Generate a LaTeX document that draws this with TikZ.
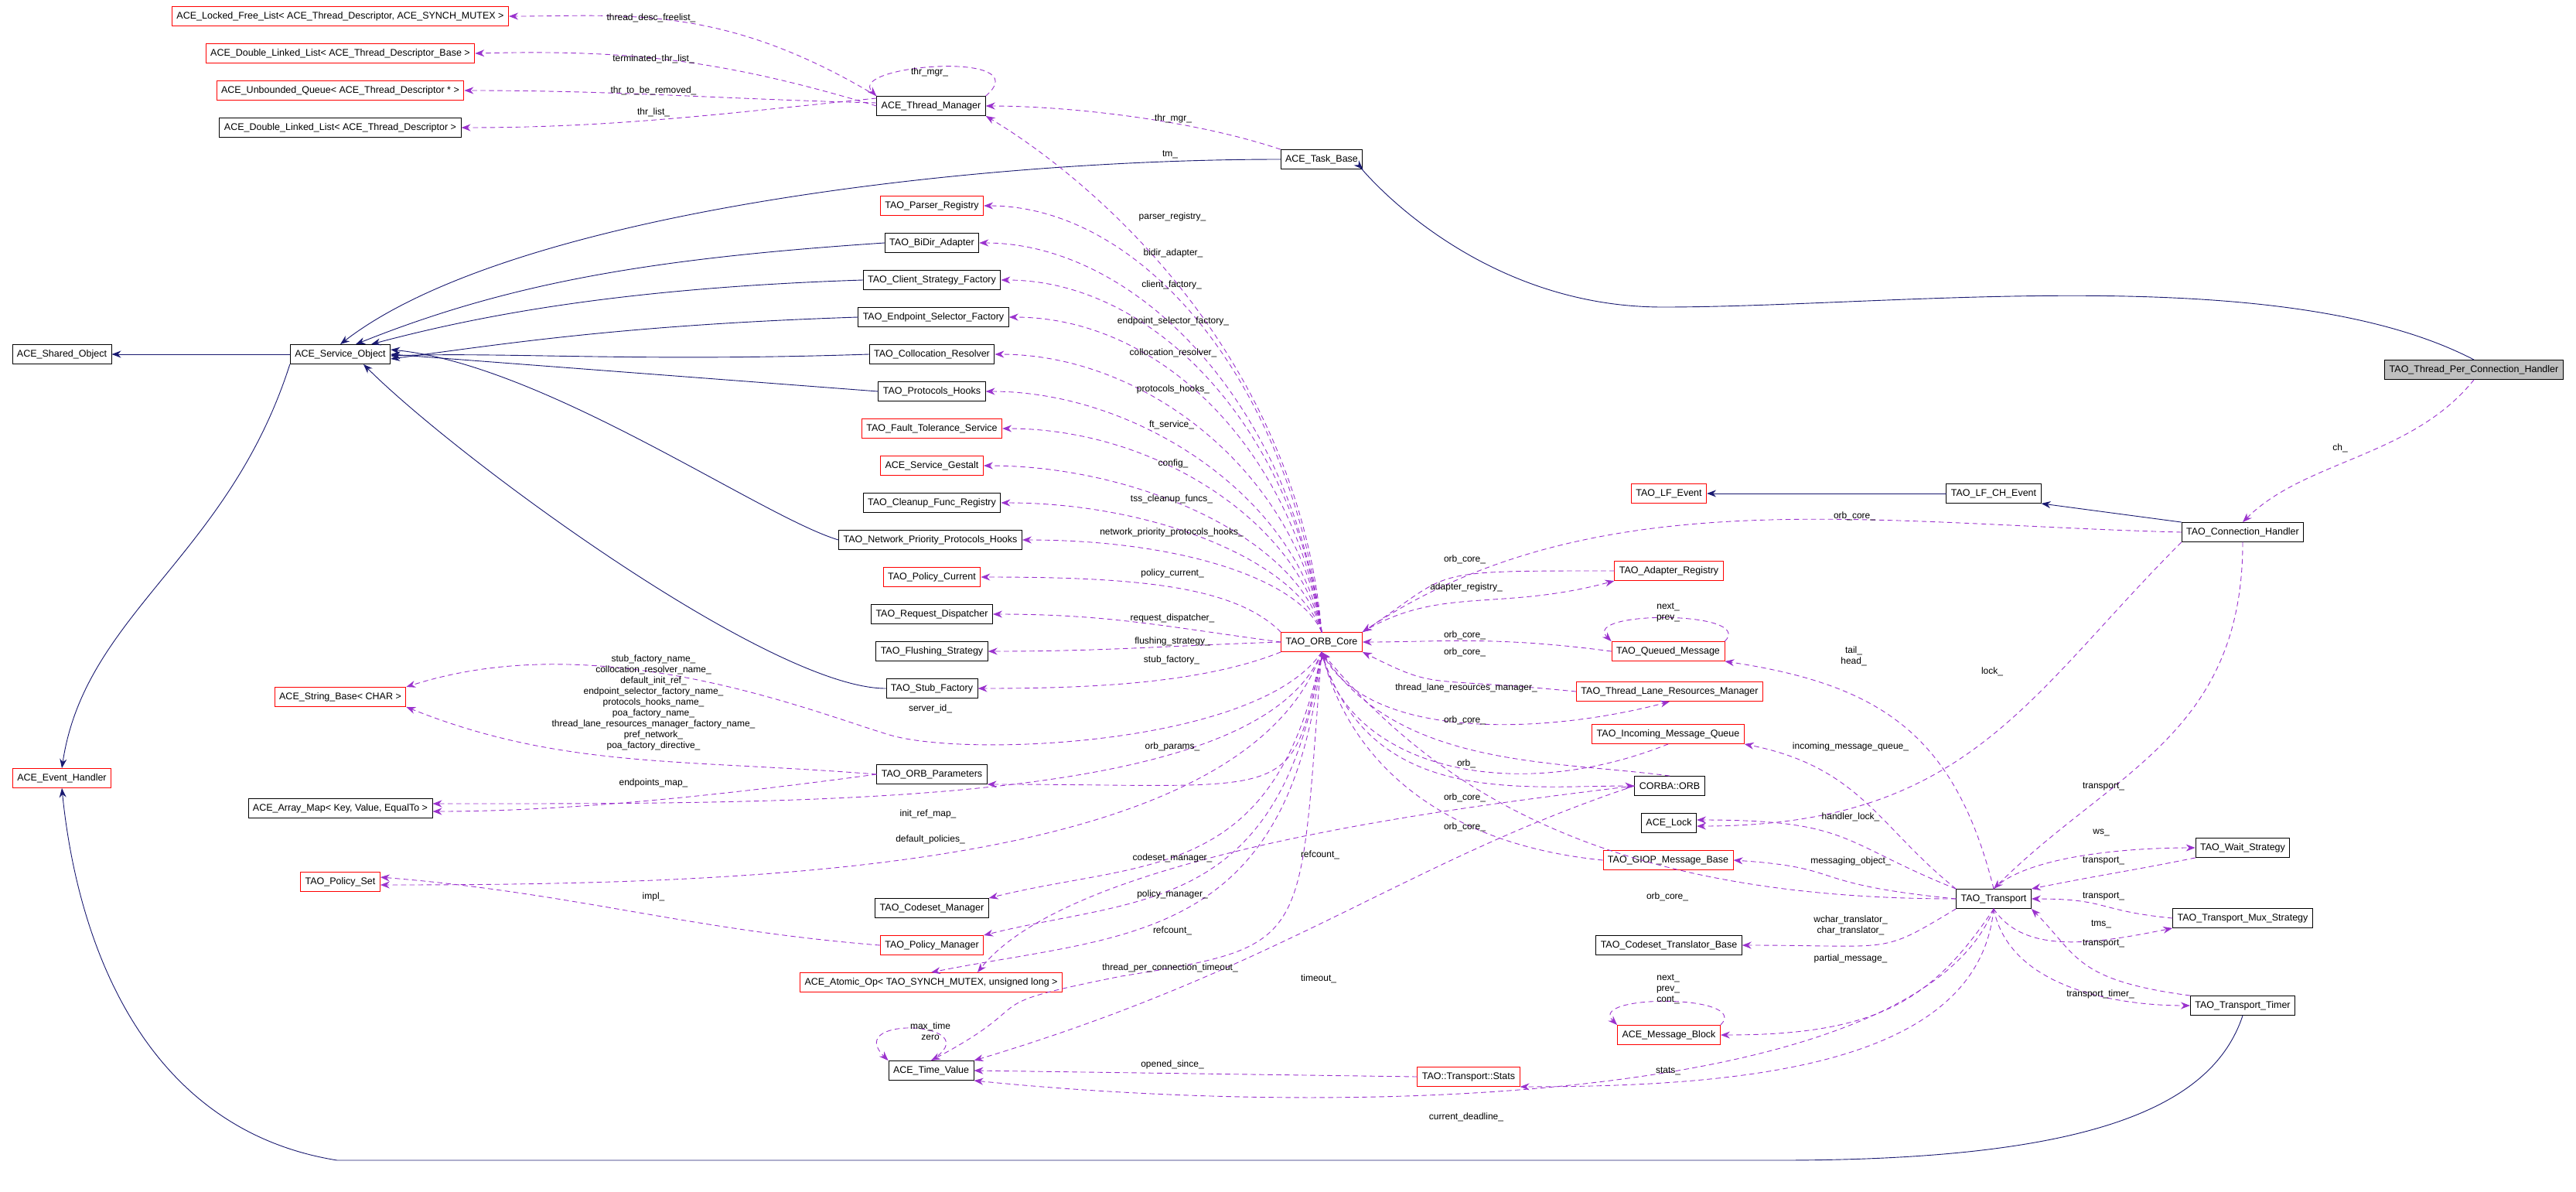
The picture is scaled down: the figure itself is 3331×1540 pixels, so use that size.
\documentclass[tikz,border=0pt]{standalone}
\usepackage{fontspec}
\setmainfont{Liberation Sans}
\usetikzlibrary{arrows,arrows.meta}

\definecolor{inhcol}{HTML}{191970}
\definecolor{memcol}{HTML}{9A32CD}

\tikzset{
  cls/.style  = {rectangle, draw=black, fill=white, line width=0.9pt,
                 minimum height=25pt, inner xsep=6pt,
                 font=\fontsize{12.5}{14}\selectfont},
  ext/.style  = {cls, draw=red},
  cur/.style  = {cls, fill=black!25},
  lbl/.style  = {inner sep=0pt, font=\fontsize{12}{14}\selectfont},
  inh/.style  = {-{Stealth[length=12pt,width=9pt]}, draw=inhcol, line width=0.9pt},
  mem/.style  = {-{Stealth[length=12pt,width=9pt]}, draw=memcol, line width=0.9pt,
                 dash pattern=on 6pt off 5pt}
}

\begin{document}
\begin{tikzpicture}[x=1pt,y=-1pt,line cap=round]
\useasboundingbox (0,0) rectangle (3331,1540);

% left column
\node[ext] (lfl)  at (440,21)  {ACE\_Locked\_Free\_List< ACE\_Thread\_Descriptor, ACE\_SYNCH\_MUTEX >};
\node[ext] (dllb) at (440,69)  {ACE\_Double\_Linked\_List< ACE\_Thread\_Descriptor\_Base >};
\node[ext] (ubq)  at (440,117) {ACE\_Unbounded\_Queue< ACE\_Thread\_Descriptor * >};
\node[cls] (dlld) at (440,165) {ACE\_Double\_Linked\_List< ACE\_Thread\_Descriptor >};
\node[cls] (shobj) at (80,458) {ACE\_Shared\_Object};
\node[cls] (svcobj) at (440,458) {ACE\_Service\_Object};
\node[ext] (strbase) at (440,901) {ACE\_String\_Base< CHAR >};
\node[ext] (evh) at (80,1006) {ACE\_Event\_Handler};
\node[cls] (amap) at (440,1045) {ACE\_Array\_Map< Key, Value, EqualTo >};
\node[ext] (pset) at (440,1140) {TAO\_Policy\_Set};

% middle column
\node[cls] (thrmgr) at (1204,137) {ACE\_Thread\_Manager};
\node[ext] (parser) at (1205,266) {TAO\_Parser\_Registry};
\node[cls] (bidir)  at (1205,314) {TAO\_BiDir\_Adapter};
\node[cls] (client) at (1205,362) {TAO\_Client\_Strategy\_Factory};
\node[cls] (endsel) at (1207,410) {TAO\_Endpoint\_Selector\_Factory};
\node[cls] (colloc) at (1205,458) {TAO\_Collocation\_Resolver};
\node[cls] (phooks) at (1205,506) {TAO\_Protocols\_Hooks};
\node[ext] (ftsvc)  at (1205,554) {TAO\_Fault\_Tolerance\_Service};
\node[ext] (gestalt) at (1205,602) {ACE\_Service\_Gestalt};
\node[cls] (cleanup) at (1205,650) {TAO\_Cleanup\_Func\_Registry};
\node[cls] (nphooks) at (1203,698) {TAO\_Network\_Priority\_Protocols\_Hooks};
\node[ext] (polcur) at (1205,746) {TAO\_Policy\_Current};
\node[cls] (reqdisp) at (1205,794) {TAO\_Request\_Dispatcher};
\node[cls] (flush)  at (1205,842) {TAO\_Flushing\_Strategy};
\node[cls] (stubf)  at (1205,890) {TAO\_Stub\_Factory};
\node[cls] (orbpar) at (1205,1001) {TAO\_ORB\_Parameters};
\node[cls] (csmgr)  at (1205,1174) {TAO\_Codeset\_Manager};
\node[ext] (polmgr) at (1205,1222) {TAO\_Policy\_Manager};
\node[ext] (atomic) at (1204,1270) {ACE\_Atomic\_Op< TAO\_SYNCH\_MUTEX, unsigned long >};
\node[cls] (tval)   at (1204,1384) {ACE\_Time\_Value};
\node[cls] (taskb)  at (1709,206) {ACE\_Task\_Base};
\node[ext] (core)   at (1709,830) {TAO\_ORB\_Core};
\node[ext] (stats)  at (1899,1392) {TAO::Transport::Stats};

% right-middle column
\node[ext] (lfev)   at (2158,638)  {TAO\_LF\_Event};
\node[ext] (adreg)  at (2158,738)  {TAO\_Adapter\_Registry};
\node[ext] (qmsg)   at (2157,842)  {TAO\_Queued\_Message};
\node[ext] (tlrm)   at (2159,894)  {TAO\_Thread\_Lane\_Resources\_Manager};
\node[ext] (inq)    at (2157,949)  {TAO\_Incoming\_Message\_Queue};
\node[cls] (corb)   at (2159,1016) {CORBA::ORB};
\node[cls] (lock)   at (2158,1064) {ACE\_Lock};
\node[ext] (giop)   at (2157,1112) {TAO\_GIOP\_Message\_Base};
\node[cls] (cstr)   at (2158,1222) {TAO\_Codeset\_Translator\_Base};
\node[ext] (mblk)   at (2158,1338) {ACE\_Message\_Block};

% right column
\node[cls] (lfch)   at (2578,638)  {TAO\_LF\_CH\_Event};
\node[cls] (conn)   at (2900,688)  {TAO\_Connection\_Handler};
\node[cur] (tpch)   at (3199,478)  {TAO\_Thread\_Per\_Connection\_Handler};
\node[cls] (trans)  at (2578,1162) {TAO\_Transport};
\node[cls] (waits)  at (2900,1096) {TAO\_Wait\_Strategy};
\node[cls] (muxs)   at (2900,1187) {TAO\_Transport\_Mux\_Strategy};
\node[cls] (timer)  at (2900,1300) {TAO\_Transport\_Timer};

% inheritance
\draw[inh] (svcobj) -- (shobj);
\draw[inh] (svcobj.south west) .. controls +(-80,250) and +(30,-200) .. (evh.north);
\draw[inh] (taskb.west) .. controls +(-400,0) and +(220,-170) .. (svcobj.north);
\draw[inh] (bidir.west) .. controls +(-300,20) and +(200,-80) .. ([xshift=20pt]svcobj.north);
\draw[inh] (client.west) .. controls +(-300,10) and +(150,-40) .. ([xshift=40pt]svcobj.north);
\draw[inh] (endsel.west) .. controls +(-300,10) and +(150,-20) .. ([yshift=-6pt]svcobj.east);
\draw[inh] (colloc.west) .. controls +(-300,10) and +(150,-5) .. ([yshift=-2pt]svcobj.east);
\draw[inh] (phooks.west) -- (svcobj.east);
\draw[inh] (nphooks.west) .. controls +(-100,-30) and +(200,20) .. ([yshift=6pt]svcobj.east);
\draw[inh] (stubf.west) .. controls +(-150,0) and +(120,120) .. ([xshift=30pt]svcobj.south);
\draw[inh] (tpch.north) .. controls +(-250,-130) and +(300,0) .. (2150,397)
           .. controls +(-250,0) and +(-10,-10) .. (taskb.south east);
\draw[inh] (lfch) -- (lfev);
\draw[inh] (conn.north west) -- (lfch.south east);
\draw[inh] (timer.south) .. controls +(-40,120) and +(400,0) .. (2300,1500)
           -- (436,1500) .. controls +(-250,-40) and +(20,200) .. (evh.south);

% thread manager members
\draw[mem] (thrmgr.north west) .. controls +(-200,-120) and +(150,0) .. (lfl.east);
\draw[mem] (thrmgr.west) .. controls +(-200,-60) and +(200,-5) .. (dllb.east);
\draw[mem] ([yshift=4pt]thrmgr.west) .. controls +(-200,-5) and +(200,0) .. (ubq.east);
\draw[mem] ([yshift=10pt]thrmgr.west) .. controls +(-200,20) and +(200,0) .. (dlld.east);
\draw[mem] (thrmgr.north east) .. controls +(70,-60) and +(-40,-40) .. (thrmgr.north west);
\draw[mem] (taskb.north west) .. controls +(-120,-40) and +(100,0) .. (thrmgr.east);
\draw[mem] (core.north) .. controls +(-30,-350) and +(150,90) .. (thrmgr.south east);

% orb core members, upper fan
\draw[mem] (core.north) .. controls +(-40,-330) and +(200,0) .. (parser.east);
\draw[mem] (core.north) .. controls +(-40,-300) and +(200,0) .. (bidir.east);
\draw[mem] (core.north) .. controls +(-35,-260) and +(200,0) .. (client.east);
\draw[mem] (core.north) .. controls +(-35,-230) and +(200,0) .. (endsel.east);
\draw[mem] (core.north) .. controls +(-30,-200) and +(200,0) .. (colloc.east);
\draw[mem] (core.north) .. controls +(-30,-170) and +(200,0) .. (phooks.east);
\draw[mem] (core.north) .. controls +(-30,-140) and +(200,0) .. (ftsvc.east);
\draw[mem] (core.north) .. controls +(-30,-120) and +(200,0) .. (gestalt.east);
\draw[mem] (core.north) .. controls +(-30,-90) and +(200,0) .. (cleanup.east);
\draw[mem] (core.north) .. controls +(-30,-70) and +(200,0) .. (nphooks.east);
\draw[mem] (core.north west) .. controls +(-60,-60) and +(200,0) .. (polcur.east);
\draw[mem] (core.west) .. controls +(-150,-20) and +(150,0) .. (reqdisp.east);
\draw[mem] (core.west) .. controls +(-150,5) and +(150,0) .. (flush.east);
\draw[mem] (core.south west) .. controls +(-100,40) and +(150,0) .. (stubf.east);

% orb core members, lower fan
\draw[mem] (core.south) .. controls +(-80,120) and +(100,30) .. (1150,950)
           .. controls +(-100,-30) and +(250,-80) .. (strbase.north east);
\draw[mem] (orbpar.west) .. controls +(-250,-20) and +(200,80) .. (strbase.south east);
\draw[mem] (orbpar.west) .. controls +(-150,20) and +(200,0) .. ([yshift=-4pt]amap.east);
\draw[mem] (core.south) .. controls +(-40,200) and +(400,0) .. (orbpar.south east);
\draw[mem] (core.south) .. controls +(-80,200) and +(500,0) .. ([yshift=6pt]amap.east);
\draw[mem] (core.south) .. controls +(-100,280) and +(500,0) .. ([yshift=-4pt]pset.east);
\draw[mem] (polmgr.west) .. controls +(-250,-20) and +(250,20) .. ([yshift=6pt]pset.east);
\draw[mem] (core.south) .. controls +(-60,300) and +(200,-50) .. (csmgr.north east);
\draw[mem] (core.south) .. controls +(-50,340) and +(200,-50) .. (polmgr.north east);
\draw[mem] (core.south) .. controls +(-40,380) and +(250,-50) .. (atomic.north);
\draw[mem] (corb.west) .. controls +(-250,30) and +(120,-150) .. ([xshift=60pt]atomic.north);
\draw[mem] (core.south) .. controls +(-30,380) and +(250,-40) .. (1450,1262)
           .. controls +(-200,40) and +(150,-80) .. (tval.north);
\draw[mem] (corb.west) .. controls +(-300,100) and +(400,-120) .. (tval.north east);
\draw[mem] (tval.north) .. controls +(80,-50) and +(-60,-60) .. (tval.north west);
\draw[mem] (stats.west) -- (tval.east);
\draw[mem] (trans.south) .. controls +(-20,200) and +(300,0) .. (stats.south east);
\draw[mem] (trans.south) .. controls +(-100,250) and +(500,50) .. (tval.south east);

% right side to and from orb core
\draw[mem] (conn.west) .. controls +(-400,-10) and +(300,-200) .. (core.north east);
\draw[mem] (adreg.west) .. controls +(-250,0) and +(120,-80) .. (core.north east);
\draw[mem] (core.north east) .. controls +(100,-60) and +(-150,40) .. (adreg.south west);
\draw[mem] (qmsg.west) .. controls +(-150,-20) and +(100,0) .. (core.east);
\draw[mem] (qmsg.north east) .. controls +(40,-40) and +(-40,-40) .. (qmsg.north west);
\draw[mem] (tlrm.west) .. controls +(-200,-20) and +(100,50) .. (core.south east);
\draw[mem] (core.south) .. controls +(60,120) and +(-150,40) .. (tlrm.south);
\draw[mem] (inq.south) .. controls +(-200,80) and +(40,150) .. (core.south);
\draw[mem] (core.south) .. controls +(60,200) and +(-150,0) .. (corb.west);
\draw[mem] (corb.north) .. controls +(-150,-20) and +(100,150) .. (core.south);
\draw[mem] (giop.west) .. controls +(-200,-20) and +(40,150) .. (core.south);
\draw[mem] (trans.west) .. controls +(-450,0) and +(150,180) .. (core.south);

% transport and connection handler
\draw[mem] (tpch.south) .. controls +(-80,100) and +(80,-80) .. (conn.north);
\draw[mem] (conn.south west) .. controls +(-200,200) and +(350,0) .. ([yshift=-4pt]lock.east);
\draw[mem] (conn.south) .. controls +(0,250) and +(150,-150) .. (trans.north);
\draw[mem] (trans.north) .. controls +(-50,-200) and +(200,30) .. (qmsg.south east);
\draw[mem] (trans.north west) .. controls +(-100,-80) and +(150,30) .. (inq.south east);
\draw[mem] (trans.north west) .. controls +(-150,-60) and +(200,0) .. ([yshift=4pt]lock.east);
\draw[mem] (trans.west) .. controls +(-200,-20) and +(150,10) .. (giop.east);
\draw[mem] (trans.south west) .. controls +(-100,60) and +(200,0) .. (cstr.east);
\draw[mem] (trans.south) .. controls +(-80,120) and +(200,0) .. (mblk.east);
\draw[mem] (mblk.north east) .. controls +(40,-40) and +(-40,-40) .. (mblk.north west);
\draw[mem] (trans.north) .. controls +(40,-40) and +(-100,0) .. (waits.west);
\draw[mem] (waits.south west) .. controls +(-100,20) and +(100,-20) .. (trans.north east);
\draw[mem] (muxs.west) .. controls +(-100,-10) and +(100,0) .. (trans.east);
\draw[mem] (trans.south) .. controls +(40,60) and +(-100,20) .. (muxs.south west);
\draw[mem] (timer.north west) .. controls +(-150,-20) and +(60,60) .. (trans.south east);
\draw[mem] (trans.south) .. controls +(20,100) and +(-100,0) .. (timer.west);

% member labels
\node[lbl] (l01) at (842,23)  {thread\_desc\_freelist\_};
\node[lbl] (l02) at (845,76)  {terminated\_thr\_list\_};
\node[lbl] (l03) at (845,117) {thr\_to\_be\_removed\_};
\node[lbl] (l04) at (845,145) {thr\_list\_};
\node[lbl] (l05) at (1202,93) {thr\_mgr\_};
\node[lbl] (l06) at (1517,153) {thr\_mgr\_};
\node[lbl] (l07) at (1513,200) {tm\_};
\node[lbl] (l08) at (1516,280) {parser\_registry\_};
\node[lbl] (l09) at (1517,327) {bidir\_adapter\_};
\node[lbl] (l10) at (1515,368) {client\_factory\_};
\node[lbl] (l11) at (1517,415) {endpoint\_selector\_factory\_};
\node[lbl] (l12) at (1517,456) {collocation\_resolver\_};
\node[lbl] (l13) at (1517,503) {protocols\_hooks\_};
\node[lbl] (l14) at (1515,549) {ft\_service\_};
\node[lbl] (l15) at (1517,599) {config\_};
\node[lbl] (l16) at (1515,645) {tss\_cleanup\_funcs\_};
\node[lbl] (l17) at (1515,688) {network\_priority\_protocols\_hooks\_};
\node[lbl] (l18) at (1516,741) {policy\_current\_};
\node[lbl] (l19) at (1516,799) {request\_dispatcher\_};
\node[lbl] (l20) at (1516,829) {flushing\_strategy\_};
\node[lbl] (l21) at (1515,853) {stub\_factory\_};
\node[lbl] (l22) at (1203,916) {server\_id\_};
\node[lbl,align=center] (l23) at (845,908) {stub\_factory\_name\_\\collocation\_resolver\_name\_\\default\_init\_ref\_\\endpoint\_selector\_factory\_name\_\\protocols\_hooks\_name\_\\poa\_factory\_name\_\\thread\_lane\_resources\_manager\_factory\_name\_\\pref\_network\_\\poa\_factory\_directive\_};
\node[lbl] (l24) at (845,1012) {endpoints\_map\_};
\node[lbl] (l25) at (1516,965) {orb\_params\_};
\node[lbl] (l26) at (1200,1052) {init\_ref\_map\_};
\node[lbl] (l27) at (1203,1085) {default\_policies\_};
\node[lbl] (l28) at (845,1159) {impl\_};
\node[lbl] (l29) at (1516,1109) {codeset\_manager\_};
\node[lbl] (l30) at (1516,1156) {policy\_manager\_};
\node[lbl] (l31) at (1516,1203) {refcount\_};
\node[lbl] (l32) at (1707,1105) {refcount\_};
\node[lbl] (l33) at (1513,1251) {thread\_per\_connection\_timeout\_};
\node[lbl] (l34) at (1705,1265) {timeout\_};
\node[lbl,align=center] (l35) at (1203,1333) {max\_time\\zero};
\node[lbl] (l36) at (1516,1376) {opened\_since\_};
\node[lbl] (l37) at (1896,1444) {current\_deadline\_};
\node[lbl] (l38) at (2157,1385) {stats\_};
\node[lbl] (l39) at (1894,723) {orb\_core\_};
\node[lbl] (l40) at (1896,759) {adapter\_registry\_};
\node[lbl,align=center] (l41) at (2157,792) {next\_\\prev\_};
\node[lbl] (l42) at (1894,821) {orb\_core\_};
\node[lbl] (l43) at (1894,843) {orb\_core\_};
\node[lbl] (l44) at (1896,889) {thread\_lane\_resources\_manager\_};
\node[lbl] (l45) at (1894,931) {orb\_core\_};
\node[lbl] (l46) at (1896,987) {orb\_};
\node[lbl] (l47) at (1894,1031) {orb\_core\_};
\node[lbl] (l48) at (1894,1069) {orb\_core\_};
\node[lbl] (l49) at (2156,1159) {orb\_core\_};
\node[lbl,align=center] (l50) at (2157,1279) {next\_\\prev\_\\cont\_};
\node[lbl] (l51) at (3026,579) {ch\_};
\node[lbl] (l52) at (2398,667) {orb\_core\_};
\node[lbl,align=center] (l53) at (2397,848) {tail\_\\head\_};
\node[lbl] (l54) at (2576,868) {lock\_};
\node[lbl] (l55) at (2393,965) {incoming\_message\_queue\_};
\node[lbl] (l56) at (2720,1017) {transport\_};
\node[lbl] (l57) at (2393,1056) {handler\_lock\_};
\node[lbl] (l58) at (2717,1076) {ws\_};
\node[lbl] (l59) at (2393,1113) {messaging\_object\_};
\node[lbl] (l60) at (2720,1113) {transport\_};
\node[lbl] (l61) at (2720,1159) {transport\_};
\node[lbl,align=center] (l62) at (2393,1196) {wchar\_translator\_\\char\_translator\_};
\node[lbl] (l63) at (2717,1195) {tms\_};
\node[lbl] (l64) at (2720,1220) {transport\_};
\node[lbl] (l65) at (2393,1239) {partial\_message\_};
\node[lbl] (l66) at (2716,1285) {transport\_timer\_};

\end{tikzpicture}
\end{document}
